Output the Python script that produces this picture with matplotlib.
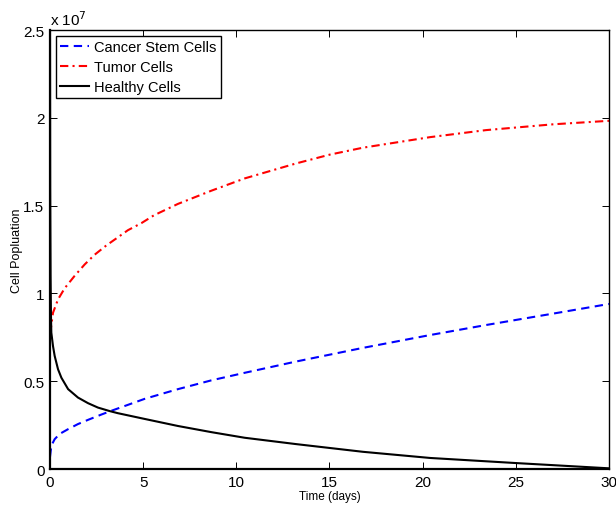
import matplotlib
matplotlib.use("Agg")
import matplotlib.pyplot as plt
from matplotlib.ticker import FuncFormatter

# values (time in days, populations in cells)
t_stem = [0, 0.07, 0.25, 0.52, 0.97, 1.5, 2.04, 2.75, 3.38, 5.09, 6.87, 8.66, 10.45,
          13.2, 16.8, 20.4, 23.4, 27, 30]
stem = [0.07e7, 0.133e7, 0.17e7, 0.2e7, 0.227e7, 0.256e7, 0.28e7, 0.31e7, 0.335e7, 0.40e7,
        0.455e7, 0.505e7, 0.548e7, 0.612e7, 0.69e7, 0.763e7, 0.82e7, 0.885e7, 0.94e7]

t_tumor = [0, 0.04, 0.16, 0.43, 0.79, 1.32, 1.86, 2.39, 3.02, 3.65, 4.18, 4.9, 5.58, 6.87,
           8.66, 10.45, 13.2, 15, 16.8, 20.4, 23.4, 27, 30]
tumor = [0.77e7, 0.795e7, 0.89e7, 0.966e7, 1.03e7, 1.10e7, 1.165e7, 1.22e7, 1.273e7, 1.32e7,
         1.36e7, 1.40e7, 1.445e7, 1.51e7, 1.585e7, 1.655e7, 1.74e7, 1.79e7, 1.83e7, 1.89e7,
         1.93e7, 1.963e7, 1.983e7]

t_healthy = [0, 0.01, 0.03, 0.05, 0.07, 0.16, 0.25, 0.43, 0.61, 0.97, 1.5, 2.04, 2.57, 3.2,
             3.64, 5.09, 6.87, 8.66, 10.45, 13.2, 15, 16.8, 20.4, 25, 30]
healthy = [2.5e7, 1.6e7, 1.1e7, 0.88e7, 0.777e7, 0.70e7, 0.644e7, 0.568e7, 0.52e7, 0.455e7,
           0.407e7, 0.375e7, 0.35e7, 0.33e7, 0.318e7, 0.285e7, 0.245e7, 0.21e7, 0.178e7,
           0.142e7, 0.12e7, 0.098e7, 0.063e7, 0.034e7, 0.004e7]

plt.rcParams['font.family'] = ['Liberation Sans', 'DejaVu Sans']

fig = plt.figure(figsize=(6.16, 5.06), dpi=100)
ax = fig.add_axes([0.0812, 0.0711, 0.9074, 0.8676])

ax.plot(t_stem, stem, color='blue', lw=1.5, linestyle=(0, (4, 2.6)), label='Cancer Stem Cells')
ax.plot(t_tumor, tumor, color='red', lw=1.5, linestyle=(0, (4, 2, 1, 2)), label='Tumor Cells')
ax.plot(t_healthy, healthy, color='black', lw=1.5, label='Healthy Cells')

ax.set_xlim(0, 30)
ax.set_ylim(0, 2.5e7)
ax.set_xticks([0, 5, 10, 15, 20, 25, 30])
ax.set_yticks([0, 0.5e7, 1e7, 1.5e7, 2e7, 2.5e7])
ax.yaxis.set_major_formatter(FuncFormatter(lambda v, p: '%g' % (v / 1e7)))
ax.tick_params(direction='in', length=5, width=0.7, labelsize=11, top=True, right=True, pad=4)
for s in ['left', 'bottom']:
    ax.spines[s].set_linewidth(1.6)
for s in ['top', 'right']:
    ax.spines[s].set_linewidth(1.0)

ax.text(0.0, 1.005, 'x 10$^7$', transform=ax.transAxes, fontsize=11, ha='left', va='bottom')

ax.set_xlabel('Time (days)', fontsize=8.5, labelpad=1)
ax.set_ylabel('Cell Popluation', fontsize=9, labelpad=0)

leg = ax.legend(loc='upper left', fontsize=10.5, fancybox=False, framealpha=1,
                edgecolor='black', handlelength=2, borderpad=0.3, labelspacing=0.4,
                handletextpad=0.35, borderaxespad=0.4)
leg.get_frame().set_linewidth(1.0)

fig.savefig('out.png', dpi=100)
